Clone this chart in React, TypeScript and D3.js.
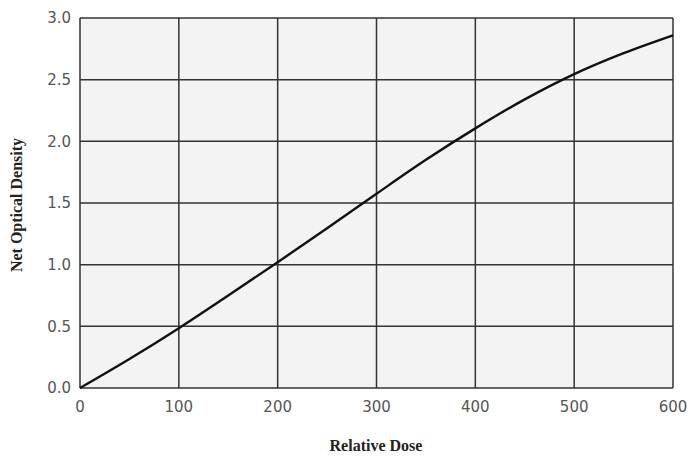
import React from "react";
import * as d3 from "d3";

const doseValues = [0, 50, 100, 150, 200, 250, 300, 350, 400, 450, 500, 550, 600];
const densityValues = [0, 0.235, 0.485, 0.75, 1.02, 1.295, 1.575, 1.85, 2.105, 2.34, 2.545, 2.715, 2.86];
const xTicks = [0, 100, 200, 300, 400, 500, 600];
const yTicks = [0, 0.5, 1.0, 1.5, 2.0, 2.5, 3.0];

export default function App() {
  const W = 691, H = 458;
  const left = 80, right = 673, top = 18, bottom = 388;
  const x = d3.scaleLinear().domain([0, 600]).range([left, right]);
  const y = d3.scaleLinear().domain([0, 3]).range([bottom, top]);
  const pts = doseValues.map((d, i) => [d, densityValues[i]] as [number, number]);
  const line = d3.line<[number, number]>().x(d => x(d[0])).y(d => y(d[1])).curve(d3.curveMonotoneX);
  const gridColor = "#333";
  return (
    <svg width={W} height={H} style={{ position: "absolute", left: 0, top: 0, background: "#fff" }}>
      <rect x={left} y={top} width={right - left} height={bottom - top} fill="#f3f3f3" />
      {yTicks.map(t => (
        <line key={"h" + t} x1={left} x2={right} y1={y(t)} y2={y(t)} stroke={gridColor} strokeWidth={1.5} />
      ))}
      {xTicks.map(t => (
        <line key={"v" + t} x1={x(t)} x2={x(t)} y1={top} y2={bottom} stroke={gridColor} strokeWidth={1.5} />
      ))}
      <path d={line(pts) || ""} fill="none" stroke="#111" strokeWidth={2.4} />
      {yTicks.map(t => (
        <text key={"yl" + t} x={71} y={y(t)} dy="0.35em" textAnchor="end" fontFamily="'DejaVu Sans', sans-serif" fontSize={15} fill="#555">
          {t.toFixed(1)}
        </text>
      ))}
      {xTicks.map(t => (
        <text key={"xl" + t} x={x(t)} y={412} textAnchor="middle" fontFamily="'DejaVu Sans', sans-serif" fontSize={15} fill="#555">
          {t}
        </text>
      ))}
      <text x={376} y={451} textAnchor="middle" fontFamily="'Liberation Serif', serif" fontWeight="bold" fontSize={16} fill="#222">
        Relative Dose
      </text>
      <text transform={`translate(22, 205) rotate(-90)`} textAnchor="middle" fontFamily="'Liberation Serif', serif" fontWeight="bold" fontSize={16} fill="#222">
        Net Optical Density
      </text>
    </svg>
  );
}
